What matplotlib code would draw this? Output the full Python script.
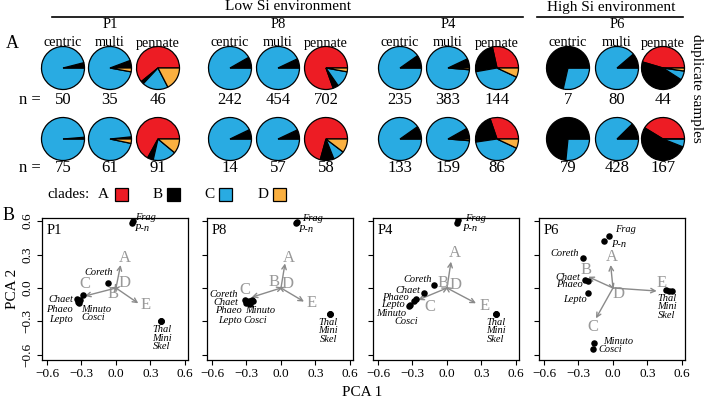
import matplotlib
matplotlib.use("Agg")
import matplotlib.pyplot as plt
from matplotlib.patches import Rectangle

plt.rcParams['font.family'] = ['Liberation Serif', 'DejaVu Serif']

# ---- data: clade counts (A, B, C, D) for centric / multi / pennate ----
sites = ["P1", "P8", "P4", "P6"]
groups = ["centric", "multi", "pennate"]
clades = ["A", "B", "C", "D"]
clade_colors = ["#ed1c24", "#000000", "#29abe2", "#fbb040"]

rep1_P1 = [[0, 2, 48, 0], [0, 2, 32, 1], [28, 1, 9, 8]]
rep1_P8 = [[0, 20, 222, 0], [0, 32, 422, 0], [565, 29, 88, 20]]
rep1_P4 = [[0, 23, 212, 0], [0, 27, 351, 5], [41, 35, 58, 10]]
rep1_P6 = [[0, 5, 2, 0], [0, 9, 71, 0], [20, 20, 3, 1]]

rep2_P1 = [[0, 1, 74, 0], [0, 1, 58, 2], [61, 4, 16, 10]]
rep2_P8 = [[0, 1, 13, 0], [0, 4, 53, 0], [41, 6, 5, 6]]
rep2_P4 = [[0, 13, 120, 0], [0, 13, 144, 2], [26, 19, 35, 6]]
rep2_P6 = [[0, 58, 21, 0], [0, 53, 375, 0], [69, 88, 10, 0]]

# ---- data: PCA scores of taxa ----
taxa = ["Frag", "P-n", "Coreth", "Chaet", "Phaeo", "Lepto",
        "Minuto", "Cosci", "Thal", "Mini", "Skel"]
pc1_P1 = [0.15, 0.14, -0.07, -0.335, -0.33, -0.32, -0.31, -0.29, 0.39, 0.39, 0.39]
pc2_P1 = [0.60, 0.58, 0.047, -0.10, -0.125, -0.135, -0.11, -0.065, -0.293, -0.293, -0.293]
pc1_P8 = [0.135, 0.13, -0.31, -0.30, -0.28, -0.27, -0.25, -0.24, 0.43, 0.43, 0.43]
pc2_P8 = [0.595, 0.585, -0.11, -0.13, -0.12, -0.14, -0.11, -0.12, -0.235, -0.235, -0.235]
pc1_P4 = [0.10, 0.09, -0.113, -0.20, -0.27, -0.29, -0.32, -0.33, 0.423, 0.423, 0.423]
pc2_P4 = [0.605, 0.585, 0.027, -0.048, -0.10, -0.12, -0.15, -0.16, -0.235, -0.235, -0.235]
pc1_P6 = [-0.032, -0.078, -0.258, -0.243, -0.217, -0.217, -0.162, -0.174, 0.46, 0.49, 0.51]
pc2_P6 = [0.466, 0.424, 0.266, 0.072, 0.063, -0.048, -0.495, -0.549, -0.02, -0.03, -0.03]

# ---- data: clade loadings (arrows) ----
load1_P1 = [0.04, -0.015, -0.27, 0.02, 0.194]
load2_P1 = [0.206, -0.025, -0.072, 0.012, -0.137]
load1_P8 = [0.035, -0.02, -0.255, 0.015, 0.20]
load2_P8 = [0.22, 0.01, -0.083, 0.005, -0.122]
load1_P4 = [0.035, -0.015, -0.25, 0.01, 0.252]
load2_P4 = [0.236, 0.01, -0.107, 0.005, -0.137]
load1_P6 = [-0.02, -0.215, -0.148, 0.005, 0.38]
load2_P6 = [0.206, 0.101, -0.272, -0.015, -0.027]
arrow_names = ["A", "B", "C", "D", "E"]

ticks = [-0.6, -0.3, 0.0, 0.3, 0.6]
tick_labels = ["\u22120.6", "\u22120.3", "0.0", "0.3", "0.6"]

# ---- layout for text labels in PCA panels (x, y, ha) ----
taxa_txt = {
    "P1": [("Frag", 0.17, 0.63, "left"), ("P-n", 0.16, 0.53, "left"),
           ("Coreth", -0.15, 0.135, "center"),
           ("Chaet", -0.375, -0.10, "right"), ("Phaeo", -0.375, -0.19, "right"),
           ("Lepto", -0.375, -0.28, "right"),
           ("Minuto", -0.30, -0.19, "left"), ("Cosci", -0.30, -0.265, "left"),
           ("Thal", 0.40, -0.375, "center"), ("Mini", 0.40, -0.45, "center"),
           ("Skel", 0.40, -0.525, "center")],
    "P8": [("Frag", 0.18, 0.62, "left"), ("P-n", 0.15, 0.525, "left"),
           ("Coreth", -0.37, -0.054, "right"), ("Chaet", -0.37, -0.13, "right"),
           ("Phaeo", -0.34, -0.206, "right"), ("Lepto", -0.34, -0.287, "right"),
           ("Minuto", -0.313, -0.206, "left"), ("Cosci", -0.33, -0.287, "left"),
           ("Thal", 0.41, -0.31, "center"), ("Mini", 0.41, -0.385, "center"),
           ("Skel", 0.41, -0.46, "center")],
    "P4": [("Frag", 0.157, 0.625, "left"), ("P-n", 0.13, 0.535, "left"),
           ("Coreth", -0.13, 0.078, "right"), ("Chaet", -0.235, -0.018, "right"),
           ("Phaeo", -0.336, -0.084, "right"), ("Lepto", -0.365, -0.152, "right"),
           ("Minuto", -0.35, -0.227, "right"), ("Cosci", -0.25, -0.30, "right"),
           ("Thal", 0.423, -0.31, "center"), ("Mini", 0.423, -0.385, "center"),
           ("Skel", 0.423, -0.46, "center")],
    "P6": [("Frag", 0.017, 0.52, "left"), ("P-n", -0.017, 0.394, "left"),
           ("Coreth", -0.30, 0.31, "right"), ("Chaet", -0.287, 0.096, "right"),
           ("Phaeo", -0.258, 0.027, "right"), ("Lepto", -0.23, -0.107, "right"),
           ("Minuto", -0.084, -0.48, "left"), ("Cosci", -0.128, -0.555, "left"),
           ("Thal", 0.466, -0.093, "center"), ("Mini", 0.466, -0.167, "center"),
           ("Skel", 0.466, -0.242, "center")],
}
arrow_txt = {
    "P1": [(0.078, 0.266), (-0.029, -0.054), (-0.27, 0.035), (0.07, 0.048), (0.26, -0.152)],
    "P8": [(0.072, 0.266), (-0.061, 0.057), (-0.313, -0.018), (0.055, 0.036), (0.267, -0.137)],
    "P4": [(0.07, 0.31), (-0.037, 0.048), (-0.148, -0.173), (0.07, 0.027), (0.325, -0.161)],
    "P6": [(-0.011, 0.28), (-0.235, 0.161), (-0.171, -0.346), (0.046, -0.054), (0.423, 0.042)],
}

W, H = 709, 404
fig = plt.figure(figsize=(W / 100, H / 100), dpi=100)

# overlay axes in pixel coordinates (y measured from bottom)
ov = fig.add_axes([0, 0, 1, 1])


def Y(py):
    return H - py


pie_x = [[63, 110, 158], [230, 278, 326], [400, 448, 497], [568, 617, 663]]
row_y = [68, 139]
n_y = [100, 168]
reps = [[rep1_P1, rep1_P8, rep1_P4, rep1_P6], [rep2_P1, rep2_P8, rep2_P4, rep2_P6]]

for r in range(2):
    for s in range(4):
        for g in range(3):
            vals = reps[r][s][g]
            cx = pie_x[s][g]
            ov.pie(vals, colors=clade_colors, startangle=0, counterclock=True,
                   center=(cx, Y(row_y[r])), radius=21.5,
                   wedgeprops=dict(edgecolor="black", linewidth=0.9))
            ov.text(cx, Y(n_y[r]), str(sum(vals)), ha="center", va="center", fontsize=12)
    ov.text(30, Y(n_y[r]), "n =", ha="center", va="center", fontsize=12)

for s in range(4):
    for g in range(3):
        ov.text(pie_x[s][g], Y(43), groups[g], ha="center", va="center", fontsize=10.2)
    ov.text(pie_x[s][1], Y(25), sites[s], ha="center", va="center", fontsize=10.5)

# environment headers
ov.plot([52, 523], [Y(17), Y(17)], color="black", lw=1.2)
ov.plot([537, 683], [Y(17), Y(17)], color="black", lw=1.2)
ov.text(288, Y(7), "Low Si environment", ha="center", va="center", fontsize=11)
ov.text(611, Y(7), "High Si environment", ha="center", va="center", fontsize=11)
ov.text(697, Y(88), "duplicate samples", ha="center", va="center", rotation=-90, fontsize=11)

ov.text(12, Y(43), "A", ha="center", va="center", fontsize=13)
ov.text(9, Y(216), "B", ha="center", va="center", fontsize=13)

# clade legend
ov.text(68, Y(194), "clades:", ha="center", va="center", fontsize=11)
leg_txt_x = [103, 158, 209, 263]
leg_box_x = [115, 167, 219, 273]
for i in range(4):
    ov.text(leg_txt_x[i], Y(194), clades[i], ha="center", va="center", fontsize=11)
    ov.add_patch(Rectangle((leg_box_x[i], Y(201)), 13, 13, facecolor=clade_colors[i],
                           edgecolor="black", lw=0.9))

ov.set_xlim(0, W)
ov.set_ylim(0, H)
ov.set_aspect("auto")
ov.axis("off")

# ---- PCA panels ----
panel_left = [42, 207, 373, 539]
pcs = [(pc1_P1, pc2_P1, load1_P1, load2_P1), (pc1_P8, pc2_P8, load1_P8, load2_P8),
       (pc1_P4, pc2_P4, load1_P4, load2_P4), (pc1_P6, pc2_P6, load1_P6, load2_P6)]
top, bottom, pw = 218, 360, 146
arrow_col = "#8a8a8a"

for i, site in enumerate(sites):
    ax = fig.add_axes([panel_left[i] / W, (H - bottom) / H, pw / W, (bottom - top) / H])
    x, y, l1, l2 = pcs[i]
    for k in range(5):
        ax.annotate("", xy=(l1[k], l2[k]), xytext=(0, 0),
                    arrowprops=dict(arrowstyle="->", color=arrow_col, lw=1.0,
                                    shrinkA=0, shrinkB=0, mutation_scale=8))
        tx, ty = arrow_txt[site][k]
        ax.text(tx, ty, arrow_names[k], color="#999999", fontsize=12,
                ha="center", va="center")
    ax.scatter(x, y, s=22, color="black", zorder=3, linewidths=0)
    for name, tx, ty, ha in taxa_txt[site]:
        ax.text(tx, ty, name, fontsize=7.5, style="italic", ha=ha, va="center")
    ax.text(0.03, 0.96, site, transform=ax.transAxes, fontsize=10.5,
            ha="left", va="top")
    ax.set_xlim(-0.643, 0.626)
    ax.set_ylim(-0.645, 0.627)
    ax.set_xticks(ticks, tick_labels)
    if i == 0:
        ax.set_yticks(ticks, tick_labels, rotation=90, va="center")
        ax.set_ylabel("PCA 2", fontsize=11, labelpad=2)
    else:
        ax.set_yticks(ticks, [])
    ax.tick_params(direction="out", length=3.5, width=0.8, labelsize=9.5, pad=2.5)
    for sp in ax.spines.values():
        sp.set_linewidth(0.9)

fig.text(362 / W, 1 - 393 / H, "PCA 1", ha="center", va="center", fontsize=11)

fig.savefig("out.png", dpi=100)
